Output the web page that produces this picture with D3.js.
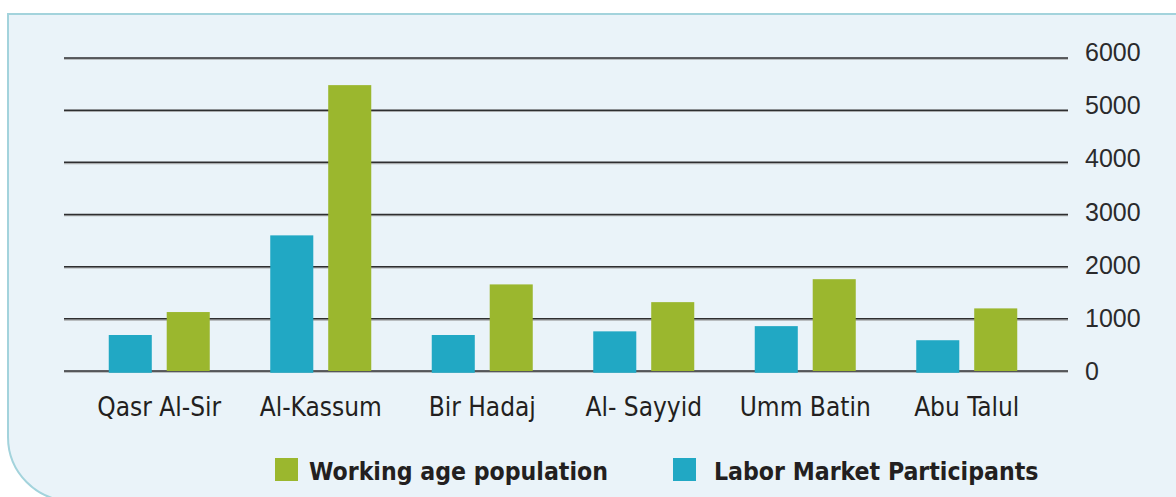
<!DOCTYPE html>
<html>
<head>
<meta charset="utf-8">
<script src="https://cdn.jsdelivr.net/npm/d3@7"></script>
<style>
  html, body { margin: 0; padding: 0; background: #ffffff; }
  svg { display: block; }
</style>
</head>
<body>
<svg id="chart" width="1176" height="497"></svg>
<script>
// ---- data ----
const categories = ["Qasr Al-Sir", "Al-Kassum", "Bir Hadaj", "Al- Sayyid", "Umm Batin", "Abu Talul"];
const laborParticipants = [690, 2600, 690, 760, 860, 590];
const workingAge = [1130, 5480, 1660, 1320, 1760, 1200];
const yTicks = [0, 1000, 2000, 3000, 4000, 5000, 6000];
const seriesNames = ["Labor Market Participants", "Working age population"];
const legendOrder = ["Working age population", "Labor Market Participants"];

// ---- styles ----
const colors = { "Labor Market Participants": "#21a8c4", "Working age population": "#9bb72e" };

const svg = d3.select("#chart");

// panel
svg.append("path")
  .attr("d", "M8,14 H1185 V501 H72 A64,64 0 0 1 8,437 Z")
  .attr("fill", "#eaf3f9")
  .attr("stroke", "#a3d3dc")
  .attr("stroke-width", 2);

// scales
const y = d3.scaleLinear().domain([0, 6000]).range([371, 58]);
const yLabel = d3.scaleLinear().domain([0, 6000]).range([371, 52]);
const x = d3.scaleBand().domain(categories).range([78.5, 1047.5]).paddingInner(0).paddingOuter(0);
const xInner = d3.scaleBand().domain(seriesNames).range([-50.5, 50.5]).paddingInner(13 / 101 * 2).paddingOuter(0);

// gridlines
const grid = svg.append("g");
grid.selectAll("line.g2").data(yTicks).join("line")
  .attr("x1", 64).attr("x2", 1068)
  .attr("y1", d => y(d) + 1.2).attr("y2", d => y(d) + 1.2)
  .attr("stroke", "#a9abad").attr("stroke-width", 1.2);
grid.selectAll("line.g1").data(yTicks).join("line")
  .attr("x1", 64).attr("x2", 1068)
  .attr("y1", d => y(d)).attr("y2", d => y(d))
  .attr("stroke", "#2e2e30").attr("stroke-width", 1.5);

// y labels
svg.append("g").selectAll("text").data(yTicks).join("text")
  .attr("x", 1085)
  .attr("y", d => yLabel(d))
  .attr("dy", "0.36em")
  .attr("font-family", "'Liberation Sans', Arial, sans-serif")
  .attr("font-size", 25)
  .attr("fill", "#2a2a2c")
  .text(d => d);

// bars
const rows = categories.map((c, i) => ({ cat: c, values: [
  { s: "Labor Market Participants", v: laborParticipants[i] },
  { s: "Working age population", v: workingAge[i] }
]}));

const groups = svg.append("g").selectAll("g").data(rows).join("g")
  .attr("transform", d => `translate(${x(d.cat) + x.bandwidth() / 2},0)`);

groups.selectAll("rect").data(d => d.values).join("rect")
  .attr("x", d => xInner(d.s))
  .attr("width", xInner.bandwidth())
  .attr("y", d => y(d.v))
  .attr("height", d => y(0) - y(d.v) + (d.s === "Labor Market Participants" ? 1.8 : 0))
  .attr("fill", d => colors[d.s]);

// category labels
svg.append("g").selectAll("text").data(categories).join("text")
  .attr("x", d => x(d) + x.bandwidth() / 2)
  .attr("y", 416)
  .attr("text-anchor", "middle")
  .attr("font-family", "'DejaVu Sans Condensed', 'DejaVu Sans', sans-serif")
  .attr("font-stretch", "condensed")
  .attr("font-size", 26)
  .attr("fill", "#231f20")
  .text(d => d);

// legend
const legendX = [275, 673];
const lg = svg.append("g").selectAll("g").data(legendOrder).join("g")
  .attr("transform", (d, i) => `translate(${legendX[i]},458)`);
lg.append("rect").attr("width", 23).attr("height", 23).attr("fill", d => colors[d]);
lg.append("text")
  .attr("x", (d, i) => i === 0 ? 34 : 41)
  .attr("y", 22)
  .attr("font-family", "'DejaVu Sans Condensed', 'DejaVu Sans', sans-serif")
  .attr("font-stretch", "condensed")
  .attr("font-weight", "bold")
  .attr("font-size", 24.6)
  .attr("fill", "#231f20")
  .text(d => d);
</script>
</body>
</html>
